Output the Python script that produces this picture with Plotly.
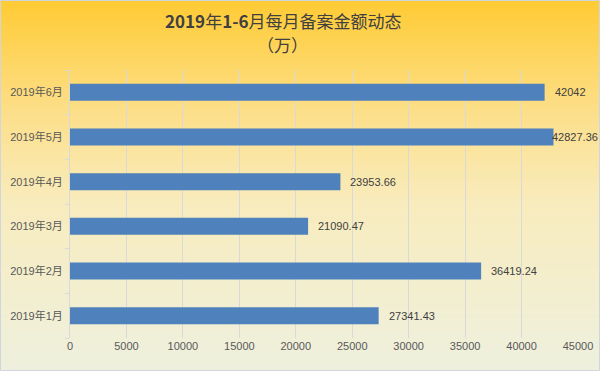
import plotly.graph_objects as go

categories = ["2019年1月", "2019年2月", "2019年3月", "2019年4月", "2019年5月", "2019年6月"]
values = [27341.43, 36419.24, 21090.47, 23953.66, 42827.36, 42042]
x_ticks = [0, 5000, 10000, 15000, 20000, 25000, 30000, 35000, 40000, 45000]
x_max = 45000

W, H = 600, 371
ML, MR, MT, MB = 70, 22, 70, 33
PW, PH = W - ML - MR, H - MT - MB

font_num = "Liberation Sans, Noto Sans CJK SC, sans-serif"
font_cn = "Noto Sans CJK SC, Noto Sans, sans-serif"

labels = [format(v, ".2f").rstrip("0").rstrip(".") for v in values]

fig = go.Figure(go.Bar(
    y=categories, x=values, orientation="h",
    marker=dict(color="#4F81BD", line=dict(width=0)),
    hoverinfo="x+y",
))

# gradient background via stripes
stops = [(0.0, (255, 203, 52)), (0.3, (252, 223, 138)), (0.55, (248, 236, 190)), (1.0, (238, 240, 222))]

def col(t):
    for (t0, c0), (t1, c1) in zip(stops[:-1], stops[1:]):
        if t0 <= t <= t1:
            f = (t - t0) / (t1 - t0)
            return "rgb(%d,%d,%d)" % tuple(round(a + (b - a) * f) for a, b in zip(c0, c1))
    return "rgb(%d,%d,%d)" % stops[-1][1]

shapes = []
x0p, x1p = -ML / PW, 1 + MR / PW
for py in range(0, H, 2):
    y_top = 1 + (MT - py) / PH
    y_bot = 1 + (MT - py - 2) / PH
    shapes.append(dict(type="rect", xref="paper", yref="paper", x0=x0p, x1=x1p,
                       y0=y_bot, y1=y_top, fillcolor=col(py / H), line=dict(width=0), layer="below"))
shapes.append(dict(type="rect", xref="paper", yref="paper", x0=x0p + 0.5 / PW, x1=x1p - 0.5 / PW,
                   y0=-MB / PH + 0.5 / PH, y1=1 + MT / PH - 0.5 / PH,
                   line=dict(color="#D0D6DE", width=1), fillcolor="rgba(0,0,0,0)", layer="above"))

def px_x(px):
    return (px - ML) / PW

def px_y(py):
    return 1 - (py - MT) / PH

title_font = dict(size=17, color="#404040", family=font_cn)
annotations = [
    dict(text="<b>2019</b>年<b>1-6</b>月每月备案金额动态", xref="paper", yref="paper",
         x=px_x(283), y=px_y(20), xanchor="center", yanchor="middle", showarrow=False, font=title_font),
    dict(text="（万）", xref="paper", yref="paper", x=px_x(282), y=px_y(44),
         xanchor="center", yanchor="middle", showarrow=False, font=title_font),
]

# data labels outside bar ends, kept inside the chart like Excel does
label_font_size = 11
for cat, v, lab in zip(categories, values, labels):
    end_px = ML + v / x_max * PW
    est_w = sum(0.556 if ch.isdigit() else 0.278 for ch in lab) * label_font_size
    shift = 8
    if end_px + shift + est_w > W - 4:
        shift = (W - 4) - est_w - end_px
    annotations.append(dict(text=lab, x=v, y=cat, xref="x", yref="y", xanchor="left", yanchor="middle",
                            xshift=shift, showarrow=False,
                            font=dict(size=label_font_size, color="#404040", family=font_num)))

fig.update_layout(
    width=W, height=H,
    margin=dict(l=ML, r=MR, t=MT, b=MB, pad=0),
    paper_bgcolor="rgba(0,0,0,0)", plot_bgcolor="rgba(0,0,0,0)",
    shapes=shapes, annotations=annotations,
    showlegend=False,
    bargap=0.62,
    xaxis=dict(range=[0, x_max], tickvals=x_ticks, ticktext=[str(v) for v in x_ticks],
               showgrid=True, gridcolor="#D9D9D9", gridwidth=1, zeroline=False, automargin=False,
               showline=False, ticks="", tickfont=dict(size=11, color="#595959", family=font_num)),
    yaxis=dict(type="category", categoryorder="array", categoryarray=categories, automargin=False,
               showline=True, linecolor="#D9D9D9", linewidth=1,
               ticks="outside", tickson="boundaries", ticklen=4, tickcolor="#D9D9D9",
               showgrid=False, tickfont=dict(size=11, color="#595959", family=font_num),
               ticklabelstandoff=4),
)

fig.write_html("out.html", config={"displayModeBar": False},
               post_script="document.body.style.margin='0';document.body.style.overflow='hidden';")
